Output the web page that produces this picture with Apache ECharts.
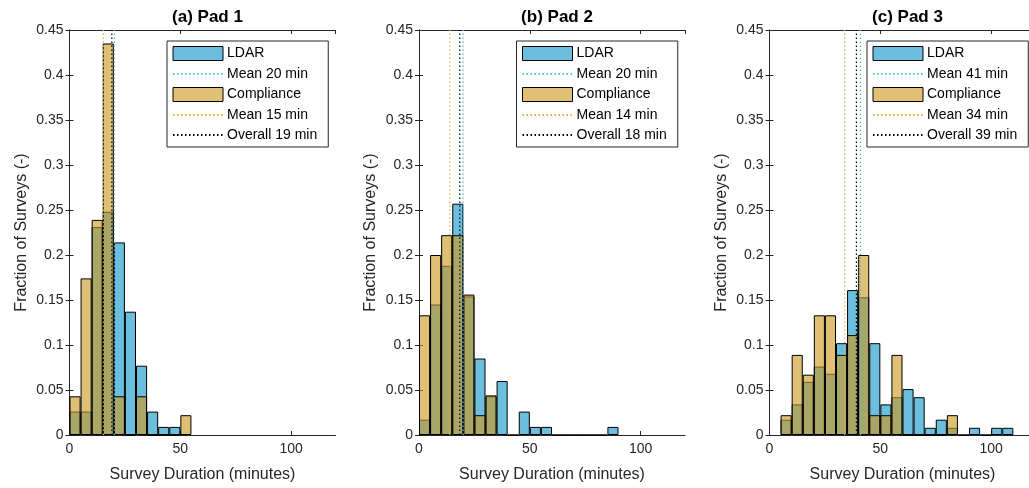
<!DOCTYPE html>
<html>
<head>
<meta charset="utf-8">
<script src="https://cdn.jsdelivr.net/npm/echarts@6/dist/echarts.min.js"></script>
<style>
html,body{margin:0;padding:0;overflow:hidden;background:#fff;}
#chart{width:1040px;height:488px;}
</style>
</head>
<body>
<div id="chart"></div>
<script>
// Bins of 5 minutes, 0-5, 5-10, ..., 115-120 (null = outside histogram range)
const binLabels = ['0-5','5-10','10-15','15-20','20-25','25-30','30-35','35-40','40-45','45-50','50-55','55-60',
  '60-65','65-70','70-75','75-80','80-85','85-90','90-95','95-100','100-105','105-110','110-115','115-120'];
const titles = ['(a) Pad 1', '(b) Pad 2', '(c) Pad 3'];

const ldar1 = [0.026,0.026,0.231,0.248,0.214,0.137,0.077,0.026,0.009,0.009];
const comp1 = [0.043,0.174,0.239,0.435,0.043,0,0.043,0,0,0,0.022];
const ldar2 = [0.017,0.145,0.188,0.257,0.154,0.085,0.043,0.060,0,0.026,0.009,0.009,0,0,0,0,0,0.009];
const comp2 = [0.133,0.200,0.222,0.222,0.156,0.022,0.044];
const ldar3 = [null,0.017,0.034,0.059,0.076,0.068,0.102,0.161,0.153,0.102,0.034,0.042,0.051,0.042,0.008,0.017,0.008,0,0.008,0,0.008,0.008];
const comp3 = [null,0.022,0.089,0.067,0.133,0.133,0.089,0.111,0.200,0.022,0.022,0.089,0,0,0,0,0.022];

const meanLdar = [20.2, 19.9, 41.0];
const meanComp = [15.3, 13.9, 33.9];
const meanAll  = [19.1, 18.4, 39.2];
const ldarLabel = ['Mean 20 min','Mean 20 min','Mean 41 min'];
const compLabel = ['Mean 15 min','Mean 14 min','Mean 34 min'];
const allLabel  = ['Overall 19 min','Overall 18 min','Overall 39 min'];

const xTicks = {min:0, max:120, interval:50};
const yTicks = {min:0, max:0.45, interval:0.05};

const ldarData = [ldar1, ldar2, ldar3];
const compData = [comp1, comp2, comp3];

const FONT = "'Liberation Sans', Arial, Helvetica, sans-serif";
const AX = '#262626';
const BLUE = 'rgb(108,190,222)';
const YELL = 'rgba(205,154,32,0.62)';
const MBLUE = '#4DBEEE';
const MYELL = '#E0AE3A';

const lefts = [69.5, 419, 769.5];
const W = 266, TOP = 30, H = 407.5;

function pad(arr){ const out=[]; for(let i=0;i<binLabels.length;i++){ out.push(i<arr.length?arr[i]:null);} return out; }

const grid=[], xAxis=[], yAxis=[], series=[], legend=[], title=[];
for(let p=0;p<3;p++){
  grid.push({left:lefts[p], top:TOP, width:W, height:H, containLabel:false});
  title.push({text:titles[p], left:lefts[p]+W/2, top:4, textAlign:'center',
    textStyle:{fontFamily:FONT, fontSize:17, fontWeight:'bold', color:'#000'}});
  xAxis.push({type:'value', gridIndex:p, min:xTicks.min, max:xTicks.max, interval:xTicks.interval, position:'bottom',
    name:'Survey Duration (minutes)', nameLocation:'middle', nameGap:32,
    nameTextStyle:{fontFamily:FONT, fontSize:16, color:AX},
    axisLine:{show:true, onZero:false, lineStyle:{color:AX, width:1}},
    axisTick:{show:true, inside:true, length:4, lineStyle:{color:AX}},
    axisLabel:{fontFamily:FONT, fontSize:14, color:AX, margin:7, showMaxLabel:false},
    splitLine:{show:false}});
  xAxis.push({type:'category', gridIndex:p, data:binLabels, boundaryGap:true, show:false});
  xAxis.push({type:'value', gridIndex:p, min:xTicks.min, max:xTicks.max, interval:xTicks.interval, position:'top',
    axisLine:{show:true, onZero:false, lineStyle:{color:AX, width:1}},
    axisTick:{show:true, inside:true, length:4, lineStyle:{color:AX}},
    axisLabel:{show:false}, splitLine:{show:false}});
  yAxis.push({type:'value', gridIndex:p, min:yTicks.min, max:yTicks.max, interval:yTicks.interval, position:'left',
    name:'Fraction of Surveys (-)', nameLocation:'middle', nameGap:40,
    nameTextStyle:{fontFamily:FONT, fontSize:16, color:AX},
    axisLine:{show:true, lineStyle:{color:AX, width:1}},
    axisTick:{show:true, inside:true, length:4, lineStyle:{color:AX}},
    axisLabel:{fontFamily:FONT, fontSize:14, color:AX, margin:6},
    splitLine:{show:false}});
  yAxis.push({type:'value', gridIndex:p, min:yTicks.min, max:yTicks.max, interval:yTicks.interval, position:'right',
    axisLine:{show:true, lineStyle:{color:AX, width:1}},
    axisTick:{show:true, inside:true, length:4, lineStyle:{color:AX}},
    axisLabel:{show:false}, splitLine:{show:false}});

  const xv = 3*p, xc = 3*p+1, yl = 2*p;
  series.push({type:'bar', name:'LDAR', xAxisIndex:xc, yAxisIndex:yl, data:pad(ldarData[p]),
    barWidth:'100%', barGap:'-100%', itemStyle:{color:BLUE, borderColor:'#000', borderWidth:1}, z:2, silent:true});
  series.push({type:'bar', name:'Compliance', xAxisIndex:xc, yAxisIndex:yl, data:pad(compData[p]),
    barWidth:'100%', barGap:'-100%', itemStyle:{color:YELL, borderColor:'#000', borderWidth:1}, z:3, silent:true});
  const mk = (name, m, color) => ({type:'line', name:name, xAxisIndex:xv, yAxisIndex:yl,
    data:[[m, yTicks.min],[m, yTicks.max]], symbol:'none', z:5, silent:true,
    lineStyle:{color:color, width:1.2, type:[1.5,2.5]}, itemStyle:{color:color}});
  series.push(mk(ldarLabel[p], meanLdar[p], MBLUE));
  series.push(mk(compLabel[p], meanComp[p], MYELL));
  series.push(mk(allLabel[p], meanAll[p], '#000'));
  const barItem = (n) => ({name:n, icon:'rect', itemStyle:{borderWidth:1, borderColor:'#000'}});
  const lineItem = (n) => ({name:n, itemStyle:{opacity:0}});
  legend.push({orient:'vertical', left:lefts[p]+97.5, top:41,
    data:[barItem('LDAR'), lineItem(ldarLabel[p]), barItem('Compliance'), lineItem(compLabel[p]), lineItem(allLabel[p])],
    itemWidth:50, itemHeight:14, itemGap:6, padding:[5,11,5,5],
    backgroundColor:'#fff', borderColor:AX, borderWidth:1, borderRadius:0,
    selectedMode:false,
    textStyle:{fontFamily:FONT, fontSize:14, color:'#000', padding:[0,0,0,-1]}});
}

const chart = echarts.init(document.getElementById('chart'), null, {renderer:'canvas'});
chart.setOption({animation:false, backgroundColor:'#fff', title, grid, xAxis, yAxis, series, legend});
</script>
</body>
</html>
